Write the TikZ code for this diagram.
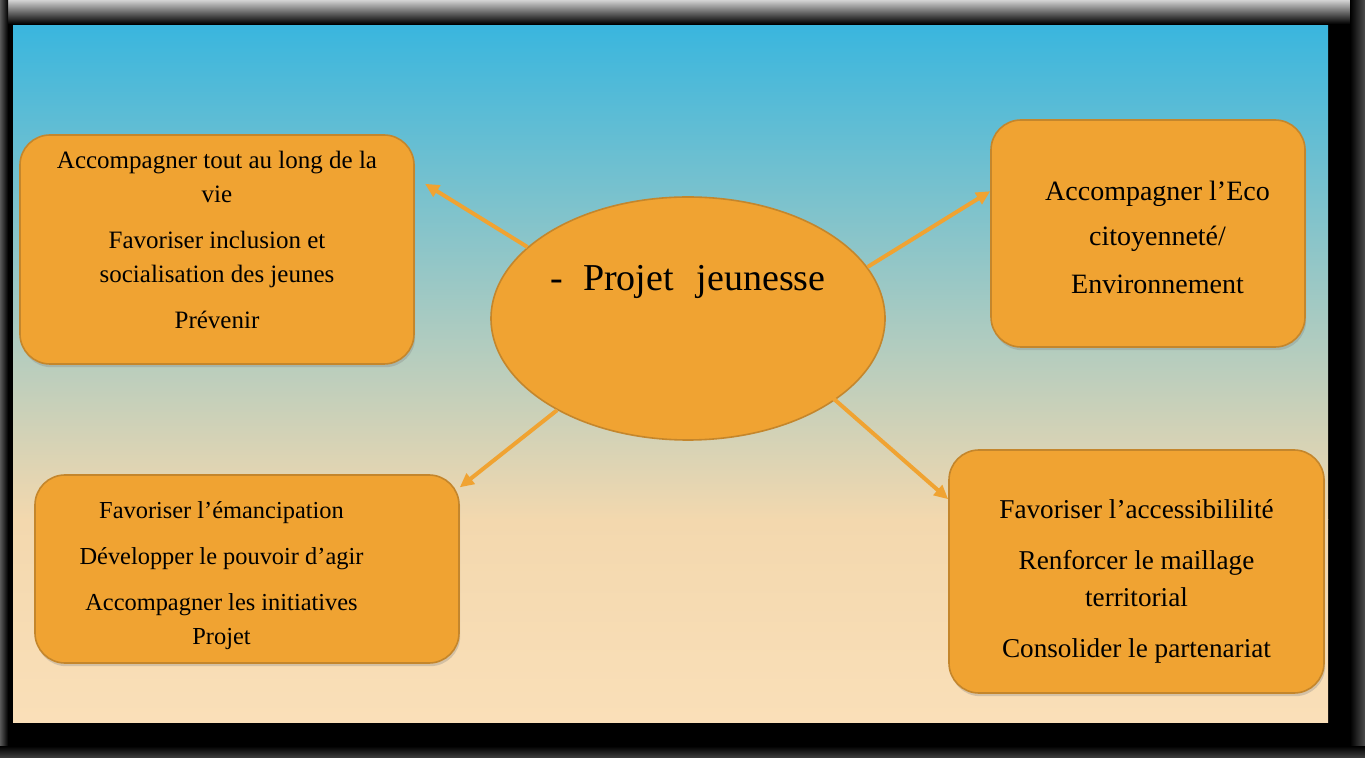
\documentclass[tikz,border=0pt]{standalone}
\usepackage{fontspec}
\setmainfont{Liberation Serif}
\usetikzlibrary{shapes.geometric,arrows.meta,shadows}
\definecolor{ciel}{HTML}{3AB6DE}
\definecolor{vert}{HTML}{86C4C8}
\definecolor{sable}{HTML}{F3D8AE}
\definecolor{peche}{HTML}{FADFB8}
\definecolor{orangebox}{HTML}{F0A332}
\definecolor{bord}{HTML}{C4862C}
\newcommand\bloc[3]{\raisebox{#2}[\height][\depth]{\hspace*{#1}\begin{tabular}{@{}c@{}}#3\end{tabular}}}
\begin{document}
\begin{tikzpicture}[x=0.5pt,y=-0.5pt,
    box/.style={draw=bord,line width=0.8pt,fill=orangebox,rounded corners=15pt,inner sep=0pt,
        drop shadow={shadow xshift=0.6pt,shadow yshift=-1.6pt,opacity=0.3}},
    fleche/.style={draw=orangebox,line width=2pt,-{Triangle[length=7pt,width=6.5pt]}}]
    \useasboundingbox (0,0) rectangle (1365,758);
    \fill (0,0) rectangle (1365,758);
    \shade[top color=gray!35,bottom color=black] (0,0) rectangle (1365,24);
    \shade[left color=gray!70!black,right color=black] (0,0) rectangle (8,758);
    \shade[left color=black,right color=gray!60!black] (1350,0) rectangle (1365,758);
    \shade[top color=black,bottom color=gray!50!black] (0,746) rectangle (1365,758);
    \shade[top color=ciel,middle color=vert,bottom color=sable] (13,26) rectangle (1328,520);
    \shade[top color=sable,bottom color=peche] (13,520) rectangle (1328,722);
    \node[draw=bord,line width=0.8pt,fill=orangebox,ellipse,minimum width=197pt,minimum height=121.5pt,inner sep=0pt,
        text depth=41pt,font=\fontsize{19}{22}\selectfont] (C) at (688,318.5) {-\hspace{10pt}Projet\hspace{0.6em}jeunesse};
    \node[box,minimum width=197pt,minimum height=114.5pt,font=\fontsize{12.5}{17}\selectfont] (NW) at (217,249.5)
        {\bloc{0pt}{3.75pt}{Accompagner tout au long de la\\vie\\[6pt]Favoriser inclusion et\\socialisation des jeunes\\[6pt]Prévenir}};
    \node[box,minimum width=157pt,minimum height=113.5pt,font=\fontsize{14}{17}\selectfont] (NE) at (1148,233.5)
        {\bloc{9.5pt}{-3.25pt}{Accompagner l’Eco\\[5.5pt]citoyenneté/\\[7pt]Environnement}};
    \node[box,minimum width=212pt,minimum height=94pt,font=\fontsize{12.2}{17}\selectfont] (SW) at (247,569)
        {\bloc{-25.5pt}{-3pt}{Favoriser l’émancipation\\[6pt]Développer le pouvoir d’agir\\[6pt]Accompagner les initiatives\\Projet}};
    \node[box,minimum width=187.5pt,minimum height=121.5pt,font=\fontsize{13.6}{18.5}\selectfont] (SE) at (1136.5,571.5)
        {\bloc{0pt}{-4.5pt}{Favoriser l’accessibililité\\[7pt]Renforcer le maillage\\territorial\\[7pt]Consolider le partenariat}};
    \draw[fleche,shorten >=6pt] (C.156) -- (NW.20);
    \draw[fleche] (C.16) -- (NE.165);
    \draw[fleche] (C.215) -- (SW.21);
    \draw[fleche,shorten <=-4pt] (C.331) -- (SE.159);
\end{tikzpicture}
\end{document}
